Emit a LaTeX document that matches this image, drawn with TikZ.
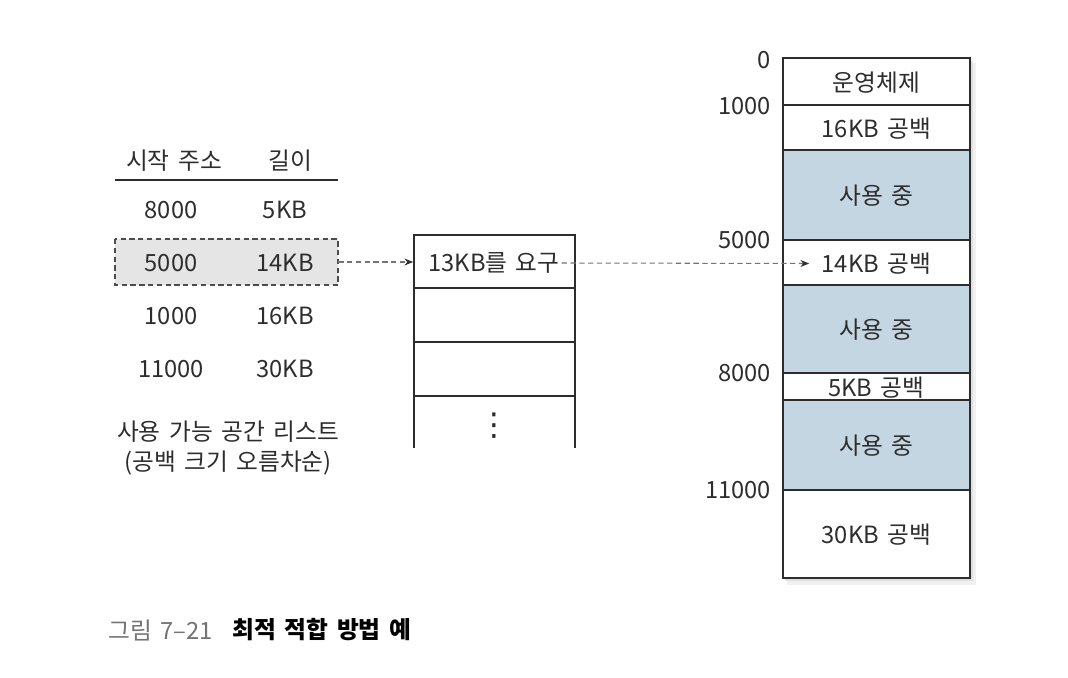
\documentclass[tikz,border=0pt]{standalone}
\usepackage{fontspec}
\setmainfont[WordSpace=1.6]{Noto Sans CJK KR}
\newfontfamily\symfont{DejaVu Sans}
\usepackage{tikz}
\usetikzlibrary{arrows.meta}

\definecolor{usedblue}{RGB}{197,214,227}
\definecolor{inkgray}{RGB}{45,45,45}

\tikzset{
  txt/.style={font=\fontsize{13.5}{15}\selectfont, text=inkgray, inner sep=1pt},
  addr/.style={txt, anchor=east},
  cellline/.style={draw=inkgray, line width=0.6pt},
  dashlink/.style={draw=black!55, line width=0.6pt, dash pattern=on 3pt off 2pt,
    -{Stealth[length=5pt,width=4pt,black!80]}}
}

\begin{document}
\begin{tikzpicture}[x=0.02cm,y=-0.02cm]
\useasboundingbox (0,0) rectangle (1068,678);

% free list table
\node[txt] (hstart) at (174,161) {시작 주소};
\node[txt] (hlen) at (290,161) {길이};
\draw[line width=0.9pt, inkgray] (115,180) -- (338,180);

\filldraw[fill=black!10, draw=black!70, line width=0.6pt, dash pattern=on 3pt off 2pt]
  (115,239) rectangle (338,285);
\node (sel) at (226.5,262) [minimum width=4.46cm, minimum height=0.92cm] {};

\foreach \y/\a/\l in {210/8000/5KB, 263/5000/14KB, 316/1000/16KB, 369/11000/30KB}{
  \node[txt] at (171,\y) {\a};
  \node[txt] at (285,\y) {\l};
}

\node[txt] (cap1) at (228,432) {사용 가능 공간 리스트};
\node[txt] (cap2) at (228,463) {(공백 크기 오름차순)};

% request queue
\draw[cellline] (414,448) -- (414,235) -- (575,235) -- (575,448);
\foreach \y in {288,342,396}
  \draw[cellline] (414,\y) -- (575,\y);
\node[txt] (req) at (494,263) {13KB를 요구};
\node[txt, font=\symfont\fontsize{18}{18}\selectfont] (dots) at (494,426) {⋮};
\node (qtop) at (494,262) [minimum width=3.22cm, minimum height=1cm] {};

% memory
\fill[black!6] (787,63) rectangle (976,585);
\fill[black!12] (785,61) rectangle (973,581);
\foreach \ya/\yb/\col/\t/\nm in {58/105/white/운영체제/mos, 105/150/white/16KB 공백/m16,
  150/240/usedblue/사용 중/mua, 240/285/white/14KB 공백/m14, 285/373/usedblue/사용 중/mub,
  373/400/white/5KB 공백/m5, 400/490/usedblue/사용 중/muc, 490/578/white/30KB 공백/m30}{
  \filldraw[fill=\col, cellline] (783,\ya) rectangle (970,\yb);
  \node[txt] (\nm) at (876.5,{(\ya+\yb)/2+1}) {\t};
}

\foreach \y/\a in {60/0, 106/1000, 240/5000, 373/8000, 490/11000}
  \node[addr] at (773,\y) {\a};

% connectors
\draw[dashlink] (sel.east) -- (qtop.west);
\draw[dashlink] (req.east) -- ([xshift=-6pt]m14.west);

% caption
\node[anchor=west, font=\fontsize{13.5}{15}\selectfont, text=black!55, inner sep=0pt]
  (fig) at (108,630) {그림 7--21};
\node[anchor=west, font=\fontsize{13.5}{15}\selectfont\bfseries, text=black, inner sep=0pt]
  (title) at (232,630) {최적 적합 방법 예};
\end{tikzpicture}
\end{document}
